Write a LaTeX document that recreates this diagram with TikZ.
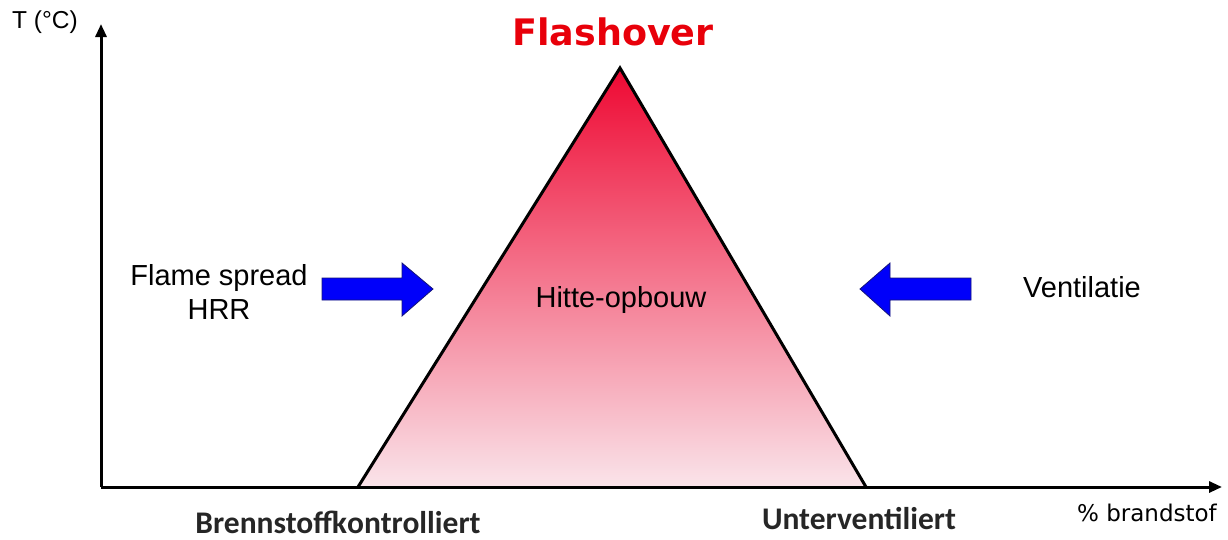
\documentclass[tikz,border=0pt]{standalone}
\usepackage{fontspec}
\setmainfont{Liberation Sans}
\newfontfamily\verdfont{DejaVu Sans}
\newfontfamily\calfont{Carlito}
\usetikzlibrary{arrows.meta}
\definecolor{fred}{RGB}{238,8,50}
\definecolor{fmid}{RGB}{243,90,122}
\definecolor{fpink}{RGB}{250,228,234}
\definecolor{ablue}{RGB}{0,0,250}
\definecolor{anavy}{RGB}{20,20,120}
\definecolor{tred}{RGB}{232,0,10}
\begin{document}
\begin{tikzpicture}[x=1pt,y=-1pt,
  axis/.style={line width=3pt,-{Triangle[length=13pt,width=11pt]}},
  bluearrow/.style={fill=ablue,draw=anavy,line width=0.8pt},
  lbl/.style={inner sep=0pt,align=center,font=\fontsize{29}{34}\selectfont},
  boldlbl/.style={inner sep=0pt,font=\calfont\bfseries\fontsize{31.5}{34}\selectfont,text=black!85}]
\useasboundingbox (0,0) rectangle (1228,539);
\coordinate (O) at (101,487);
\coordinate (Ytop) at (101,24);
\coordinate (Xend) at (1222,487);
% triangle
\coordinate (A) at (620,68);
\coordinate (L) at (358,487);
\coordinate (R) at (866,487);
\begin{scope}
\clip (A) -- (L) -- (R) -- cycle;
\shade[top color=fred,middle color=fmid,bottom color=fpink] (358,68) rectangle (866,487);
\end{scope}
\draw[line width=3pt,line join=miter] (L) -- (A) -- (R);
\draw[axis] (O) -- (Ytop);
\draw[axis] (O) -- (Xend);
% arrows
\draw[bluearrow] (322,278) -- (402,278) -- (402,263) -- (433,289) -- (402,316) -- (402,300) -- (322,300) -- cycle;
\draw[bluearrow] (971,278) -- (890,278) -- (890,263) -- (860,289) -- (890,316) -- (890,300) -- (971,300) -- cycle;
% texts
\node[inner sep=0pt,text=tred,font=\verdfont\bfseries\fontsize{36.5}{40}\selectfont] (flash) at (613,32) {Flashover};
\node[inner sep=0pt,font=\fontsize{24.5}{28}\selectfont] (T) at (45,22) {T (°C)};
\node[lbl] (fs) at (219,292) {Flame spread\\HRR};
\node[lbl] (vent) at (1082,287) {Ventilatie};
\node[lbl] (hitte) at (621,300) {Hitte-opbouw};
\node[boldlbl] (brenn) at (338,522) {Brennstoffkontrolliert};
\node[boldlbl] (unter) at (859,519) {Unterventiliert};
\node[inner sep=0pt,font=\verdfont\fontsize{23}{28}\selectfont] (brand) at (1147,513) {\% brandstof};
\end{tikzpicture}
\end{document}
